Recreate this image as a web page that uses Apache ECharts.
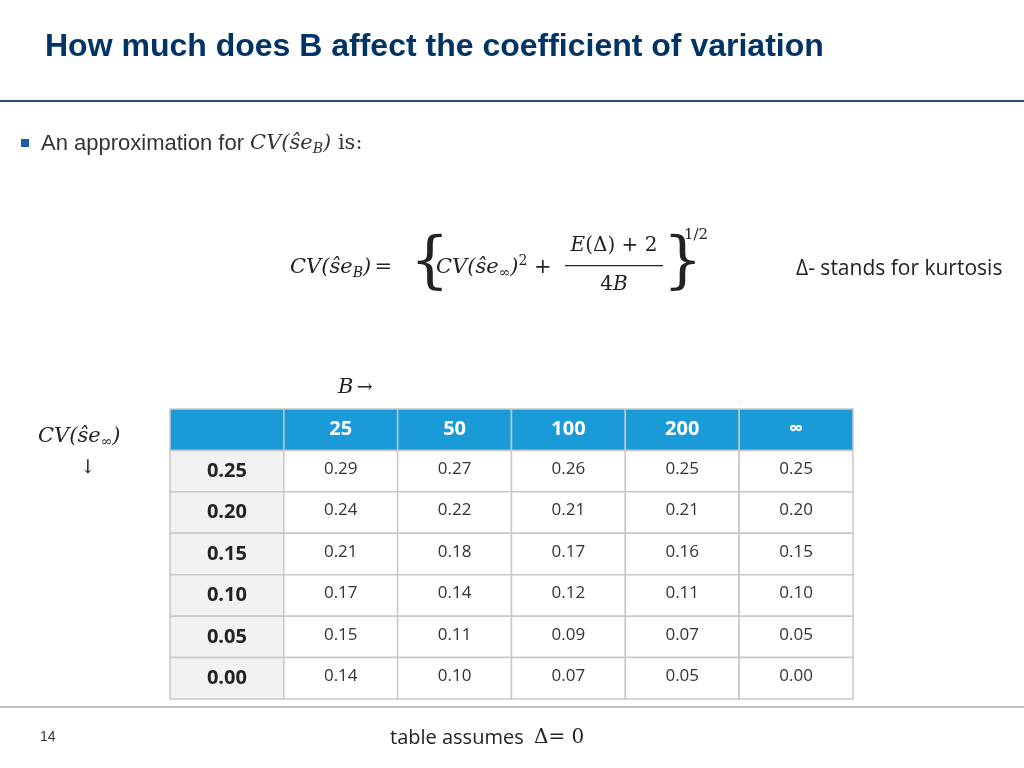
<!DOCTYPE html>
<html><head><meta charset="utf-8">
<script src="https://cdn.jsdelivr.net/npm/echarts@6/dist/echarts.min.js"></script>
<style>html,body{margin:0;padding:0;background:#fff}#c{width:1024px;height:768px}</style>
</head><body><div id="c"></div>
<script>
const colHeaders = ['25', '50', '100', '200', '∞'];
const rowHeaders = ['0.25', '0.20', '0.15', '0.10', '0.05', '0.00'];
const row025 = ['0.29', '0.27', '0.26', '0.25', '0.25'];
const row020 = ['0.24', '0.22', '0.21', '0.21', '0.20'];
const row015 = ['0.21', '0.18', '0.17', '0.16', '0.15'];
const row010 = ['0.17', '0.14', '0.12', '0.11', '0.10'];
const row005 = ['0.15', '0.11', '0.09', '0.07', '0.05'];
const row000 = ['0.14', '0.10', '0.07', '0.05', '0.00'];
const rows = [row025, row020, row015, row010, row005, row000];

const data = [];
data.push([0, 0, '', 'corner']);
colHeaders.forEach((h, i) => data.push([i + 1, 0, h, 'head']));
rowHeaders.forEach((h, r) => {
  data.push([0, r + 1, h, 'rowhead']);
  rows[r].forEach((v, c) => data.push([c + 1, r + 1, v, 'cell']));
});

const serif = '"DejaVu Serif", "Liberation Serif", serif';
const chart = echarts.init(document.getElementById('c'));
chart.setOption({
  animation: false,
  grid: { left: 170, right: 171, top: 409, height: 290 },
  xAxis: { type: 'category', data: ['', ...colHeaders], show: false },
  yAxis: { type: 'category', data: ['h', ...rowHeaders], inverse: true, show: false },
  series: [{
    type: 'custom',
    data: data,
    renderItem: function (params, api) {
      const p = api.coord([api.value(0), api.value(1)]);
      const s = api.size([1, 1]);
      const kind = data[params.dataIndex][3];
      const txt = data[params.dataIndex][2];
      let fill = '#ffffff', color = '#333333', weight = 'normal', size = 17;
      if (kind === 'corner' || kind === 'head') { fill = '#1a9ad6'; color = '#ffffff'; weight = 'bold'; size = 20; }
      if (kind === 'rowhead') { fill = '#f2f2f2'; color = '#222222'; weight = 'bold'; size = 20; }
      return {
        type: 'rect',
        shape: { x: p[0] - s[0] / 2, y: p[1] - s[1] / 2, width: s[0], height: s[1] },
        style: { fill: fill, stroke: '#c8c8c8', lineWidth: 1.5 },
        textContent: { style: { text: txt, fill: color, fontWeight: weight, fontSize: size,
          fontFamily: '"Open Sans", "Liberation Sans", sans-serif' } },
        textConfig: { position: 'inside', offset: [0, kind === 'cell' ? -2 : 0] }
      };
    }
  }],
  graphic: [
    { type: 'text', left: 45, top: 31, style: { text: 'How much does B affect the coefficient of variation',
      fill: '#003366', fontSize: 32, fontWeight: 'bold', fontFamily: '"Liberation Sans", Arial, sans-serif' } },
    { type: 'rect', shape: { x: 0, y: 100, width: 1024, height: 2 }, style: { fill: '#2a4a78' } },
    { type: 'rect', shape: { x: 21, y: 139, width: 8, height: 8 }, style: { fill: '#1f5c99' } },
    { type: 'text', x: 41, y: 144, style: { text: '{s|An approximation for }{i|CV(ŝe}{sub|B}{i|)}{n| is:}',
      verticalAlign: 'middle', rich: {
        s: { fontSize: 22, fill: '#333', fontFamily: '"Liberation Sans", sans-serif' },
        i: { fontSize: 21, fill: '#333', fontStyle: 'italic', fontFamily: serif },
        sub: { fontSize: 14, fill: '#333', fontStyle: 'italic', fontFamily: serif, padding: [10, 0, 0, 0] },
        n: { fontSize: 21, fill: '#333', fontFamily: serif } } } },
    { type: 'text', x: 290, y: 268, style: { text: '{i|CV(ŝe}{sub|B}{i|)} {n|=}', verticalAlign: 'middle', rich: {
        i: { fontSize: 21, fill: '#222', fontStyle: 'italic', fontFamily: serif },
        sub: { fontSize: 14, fill: '#222', fontStyle: 'italic', fontFamily: serif, padding: [10, 0, 0, 0] },
        n: { fontSize: 21, fill: '#222', fontFamily: serif } } } },
    { type: 'text', x: 410, y: 265, style: { text: '{', fontSize: 62, fill: '#222', fontFamily: serif, verticalAlign: 'middle' } },
    { type: 'text', x: 436, y: 268, style: { text: '{i|CV(ŝe}{sub|∞}{i|)}{sup|2}{n| +}', verticalAlign: 'middle', rich: {
        i: { fontSize: 21, fill: '#222', fontStyle: 'italic', fontFamily: serif },
        sub: { fontSize: 14, fill: '#222', fontFamily: serif, padding: [10, 0, 0, 0] },
        sup: { fontSize: 14, fill: '#222', fontFamily: serif, padding: [0, 0, 14, 0] },
        n: { fontSize: 21, fill: '#222', fontFamily: serif } } } },
    { type: 'text', x: 614, y: 246, style: { text: '{i|E}{n|(Δ) + 2}', align: 'center', verticalAlign: 'middle', rich: {
        i: { fontSize: 20, fill: '#222', fontStyle: 'italic', fontFamily: serif },
        n: { fontSize: 20, fill: '#222', fontFamily: serif } } } },
    { type: 'rect', shape: { x: 565, y: 265, width: 98, height: 1.3 }, style: { fill: '#222' } },
    { type: 'text', x: 614, y: 285, style: { text: '{n|4}{i|B}', align: 'center', verticalAlign: 'middle', rich: {
        i: { fontSize: 20, fill: '#222', fontStyle: 'italic', fontFamily: serif },
        n: { fontSize: 20, fill: '#222', fontFamily: serif } } } },
    { type: 'text', x: 663, y: 265, style: { text: '}', fontSize: 62, fill: '#222', fontFamily: serif, verticalAlign: 'middle' } },
    { type: 'text', x: 684, y: 235, style: { text: '1/2', fontSize: 15, fill: '#222', fontFamily: serif, verticalAlign: 'middle' } },
    { type: 'text', x: 796, y: 269, style: { text: 'Δ- stands for kurtosis', fontSize: 21, fill: '#222',
      fontFamily: '"Open Sans", sans-serif', verticalAlign: 'middle' } },
    { type: 'text', x: 338, y: 388, style: { text: '{i|B} {n|→}', verticalAlign: 'middle', rich: {
        i: { fontSize: 21, fill: '#222', fontStyle: 'italic', fontFamily: serif },
        n: { fontSize: 19, fill: '#222', fontFamily: serif } } } },
    { type: 'text', x: 38, y: 437, style: { text: '{i|CV(ŝe}{sub|∞}{i|)}', verticalAlign: 'middle', rich: {
        i: { fontSize: 21, fill: '#222', fontStyle: 'italic', fontFamily: serif },
        sub: { fontSize: 14, fill: '#222', fontFamily: serif, padding: [10, 0, 0, 0] } } } },
    { type: 'text', x: 88, y: 468, style: { text: '↓', fontSize: 19, fill: '#222', fontFamily: serif, align: 'center', verticalAlign: 'middle' } },
    { type: 'rect', shape: { x: 0, y: 706, width: 1024, height: 2 }, style: { fill: '#bfbfbf' } },
    { type: 'text', x: 40, y: 737, style: { text: '14', fontSize: 14, fill: '#333', fontFamily: '"Liberation Sans", sans-serif', verticalAlign: 'middle' } },
    { type: 'text', x: 390, y: 738, style: { text: '{s|table assumes  }{n|Δ= 0}', verticalAlign: 'middle', rich: {
        s: { fontSize: 20, fill: '#222', fontFamily: '"Open Sans", sans-serif' },
        n: { fontSize: 20, fill: '#222', fontFamily: serif } } } }
  ]
});
</script></body></html>
